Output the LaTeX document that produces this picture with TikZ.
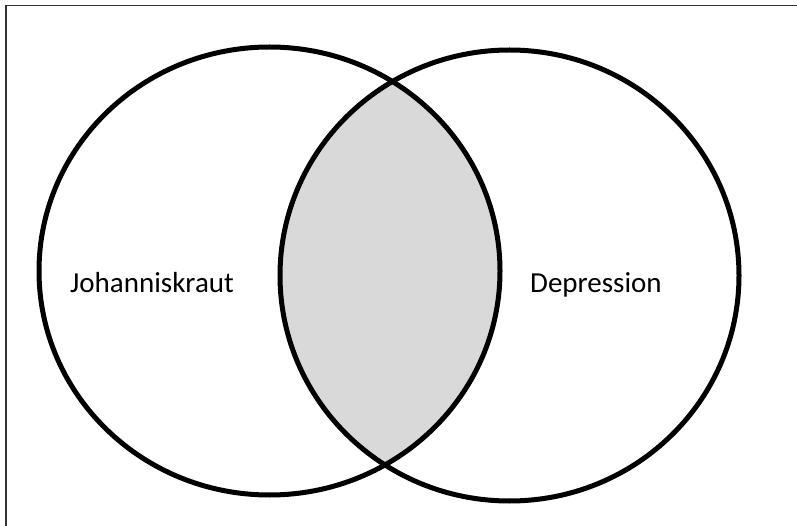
\documentclass[tikz,border=0pt]{standalone}
\usepackage{fontspec}
\setmainfont{Carlito}
\usetikzlibrary{positioning}
\tikzset{setlabel/.style={anchor=base west, inner sep=0pt, font=\fontsize{29}{35}\selectfont}}
\begin{document}
\begin{tikzpicture}[x=1pt, y=-1pt]
	\useasboundingbox (0,0) rectangle (797,526);
	\begin{scope}
		\clip (269.5,271) ellipse (230.5 and 224);
		\fill[black!15] (509.5,275.5) ellipse (229.5 and 225.5);
	\end{scope}
	\draw[black!80, line width=1.2pt] (6,526) -- (6,5.5) -- (797,5.5);
	\draw[line width=5pt] (269.5,271) ellipse (230.5 and 224);
	\draw[line width=5pt] (509.5,275.5) ellipse (229.5 and 225.5);
	\node[setlabel] (kraut) at (70,293) {Johanniskraut};
	\node[setlabel] (depr) at (530,293) {Depression};
\end{tikzpicture}
\end{document}
